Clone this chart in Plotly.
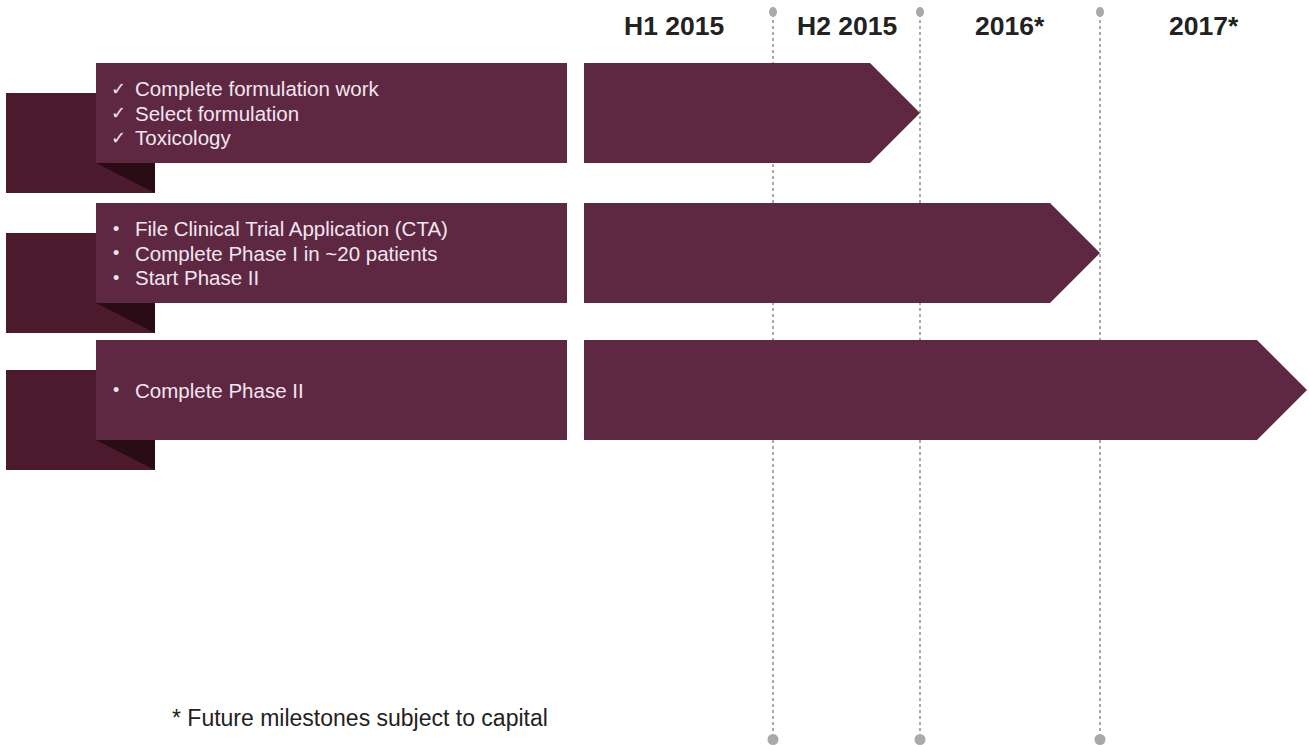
import plotly.graph_objects as go

# ---- content -------------------------------------------------------------
periods = ["H1 2015", "H2 2015", "2016*", "2017*"]

row_items = [
    ["Complete formulation work", "Select formulation", "Toxicology"],
    ["File Clinical Trial Application (CTA)", "Complete Phase I in ~20 patients", "Start Phase II"],
    ["Complete Phase II"],
]
row_markers = ["\u2713", "\u2022", "\u2022"]
# index of the last period each workstream runs through
row_end_period = [1, 2, 3]

footnote = "* Future milestones subject to capital"

# ---- layout constants (pixel canvas) ---------------------------------------
W, H = 1309, 745
period_edges = [575, 773, 920, 1100, 1307]
row_tops = [63, 203, 340]
row_h = 100
box_x0, box_x1 = 96, 567
tab_x0, tab_x1 = 6, 155
tab_drop = 30
arrow_x0 = 584
tip_len = 50
line_gap = 24.5

FONT = "Liberation Sans, Arial, sans-serif"
BOX = "#5e2843"
TAB = "#4b1a2d"
FOLD = "#2a0c17"
TEXT = "#f3e6ee"
GRID = "#a9a9a9"

shapes = []
annotations = []

# period divider lines with end dots
for xe in period_edges[1:-1]:
    shapes.append(dict(type="line", x0=xe, x1=xe, y0=14, y1=736,
                       line=dict(color=GRID, width=2, dash="dot"), layer="below"))
    shapes.append(dict(type="circle", x0=xe - 4, x1=xe + 4, y0=7, y1=17,
                       fillcolor=GRID, line=dict(width=0), layer="below"))
    shapes.append(dict(type="circle", x0=xe - 5.5, x1=xe + 5.5, y0=734, y1=745,
                       fillcolor=GRID, line=dict(width=0), layer="below"))

# period headers centred in each column
for i, p in enumerate(periods):
    annotations.append(dict(
        x=(period_edges[i] + period_edges[i + 1]) / 2, y=26, text=f"<b>{p}</b>",
        showarrow=False, xanchor="center", yanchor="middle",
        font=dict(family=FONT, size=26.5, color="#222222"),
    ))

for r, items in enumerate(row_items):
    top = row_tops[r]
    bot = top + row_h
    mid = (top + bot) / 2

    # dark tab behind the label box
    shapes.append(dict(type="rect", x0=tab_x0, x1=tab_x1, y0=top + tab_drop, y1=bot + tab_drop,
                       fillcolor=TAB, line=dict(width=0)))
    # folded corner
    shapes.append(dict(type="path",
                       path=f"M {box_x0} {bot} L {tab_x1} {bot} L {tab_x1} {bot + tab_drop} Z",
                       fillcolor=FOLD, line=dict(width=0)))
    # label box
    shapes.append(dict(type="rect", x0=box_x0, x1=box_x1, y0=top, y1=bot,
                       fillcolor=BOX, line=dict(width=0)))

    # timeline arrow ending at the edge of its last period
    tip = period_edges[row_end_period[r] + 1]
    shapes.append(dict(type="path",
                       path=(f"M {arrow_x0} {top} L {tip - tip_len} {top} L {tip} {mid} "
                             f"L {tip - tip_len} {bot} L {arrow_x0} {bot} Z"),
                       fillcolor=BOX, line=dict(width=0)))

    # milestone list
    n = len(items)
    for k, item in enumerate(items):
        y = mid + (k - (n - 1) / 2) * line_gap
        annotations.append(dict(x=109 if row_markers[r] == "\u2713" else 111, y=y,
                                text=row_markers[r], showarrow=False,
                                xanchor="left", yanchor="middle",
                                font=dict(family=FONT, size=18, color=TEXT)))
        annotations.append(dict(x=133, y=y, text=item, showarrow=False,
                                xanchor="left", yanchor="middle",
                                font=dict(family=FONT, size=20.5, color=TEXT)))

annotations.append(dict(x=170, y=718, text=footnote, showarrow=False,
                        xanchor="left", yanchor="middle",
                        font=dict(family=FONT, size=23, color="#222222")))

fig = go.Figure()
fig.update_layout(
    width=W, height=H,
    margin=dict(l=0, r=0, t=0, b=0),
    paper_bgcolor="white", plot_bgcolor="white",
    xaxis=dict(range=[0, W], visible=False, fixedrange=True),
    yaxis=dict(range=[H, 0], visible=False, fixedrange=True),
    shapes=shapes, annotations=annotations, showlegend=False,
)
fig.write_html("out.html")
